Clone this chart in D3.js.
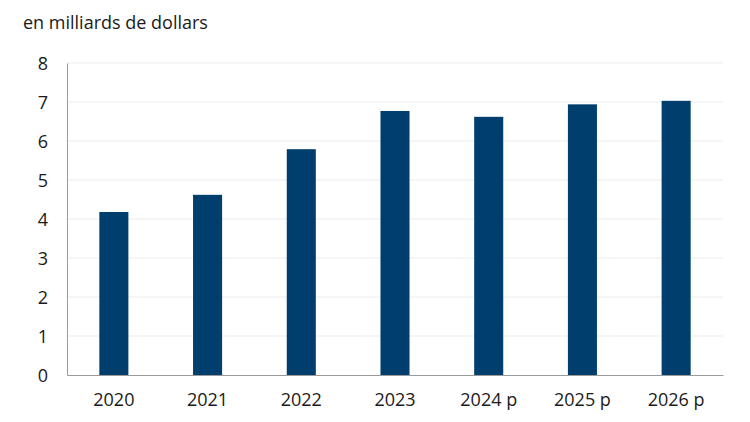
<!DOCTYPE html>
<html>
<head>
<meta charset="utf-8">
<script src="https://cdn.jsdelivr.net/npm/d3@7"></script>
<style>
  body { margin: 0; background: #fff; }
  text { font-family: "Open Sans", sans-serif; fill: #1a1a1a; }
</style>
</head>
<body>
<svg id="chart"></svg>
<script>
const years = ['2020', '2021', '2022', '2023', '2024 p', '2025 p', '2026 p']
const values = [4.18, 4.62, 5.79, 6.77, 6.62, 6.94, 7.03]
const yTicks = [0, 1, 2, 3, 4, 5, 6, 7, 8]

const width = 750
const height = 422
const margin = {top: 63, right: 27, bottom: 47, left: 67}

const svg = d3.select('#chart')
    .attr('width', width)
    .attr('height', height)

const x = d3.scaleBand()
    .domain(years)
    .range([margin.left, width - margin.right])
    .paddingInner(0.69)
    .paddingOuter(0.345)

const y = d3.scaleLinear()
    .domain([0, 8])
    .range([height - margin.bottom, margin.top])

// grid lines
svg.append('g')
    .selectAll('line')
    .data(yTicks.slice(1))
    .join('line')
    .attr('x1', margin.left)
    .attr('x2', width - margin.right)
    .attr('y1', d => y(d))
    .attr('y2', d => y(d))
    .attr('stroke', '#ebebeb')
    .attr('stroke-width', 1)

// bars
svg.append('g')
    .selectAll('rect')
    .data(values)
    .join('rect')
    .attr('x', (d, i) => x(years[i]))
    .attr('width', x.bandwidth())
    .attr('y', d => y(d))
    .attr('height', d => y(0) - y(d))
    .attr('fill', '#003f6d')

// y axis
const yAxis = svg.append('g')
    .attr('transform', `translate(${margin.left},0)`)
    .call(d3.axisLeft(y).tickValues(yTicks).tickSize(0).tickPadding(19))
yAxis.select('.domain').attr('stroke', '#9a9a9a')
yAxis.selectAll('text').style('font-size', '18px').attr('dy', '0.35em')

// x axis
const xAxis = svg.append('g')
    .attr('transform', `translate(0,${y(0)})`)
    .call(d3.axisBottom(x).tickSize(0).tickPadding(18))
xAxis.select('.domain').attr('stroke', '#9a9a9a')
xAxis.selectAll('text').style('font-size', '18px')

// unit label
svg.append('text')
    .attr('x', 23)
    .attr('y', 29)
    .style('font-size', '18px')
    .text('en milliards de dollars')
</script>
</body>
</html>
